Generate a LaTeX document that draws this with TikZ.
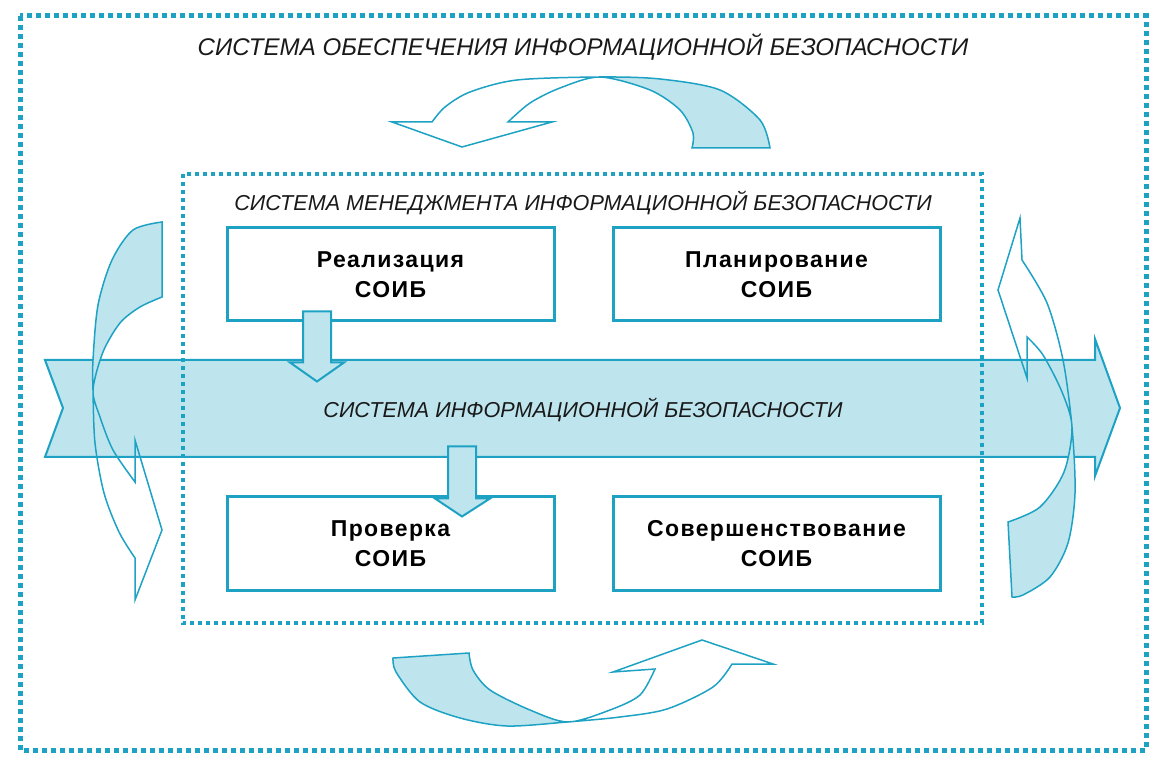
\documentclass[tikz,border=0pt]{standalone}
\usepackage{fontspec}
\setmainfont{Liberation Sans}
\newfontfamily\boxfont[LetterSpace=6]{Liberation Sans}
\usetikzlibrary{positioning, calc}
\definecolor{soibline}{HTML}{1EA2C4}
\definecolor{soibfill}{HTML}{BEE5EE}

% curved ribbons of the cycle (pixel units, y down)
\newcommand{\ribtop}{plot[smooth] coordinates {(770,148) (760,120) (720,90) (660,79) (600,77) (517,80) (470,92) (445,107) (432,122)}
  -- (392,122) -- (462,147) -- (552,122) -- (508,122)
  -- plot[smooth] coordinates {(508,122) (530,103) (560,88) (600,77) (650,90) (680,110) (693,133) (692,148)} -- cycle}
\newcommand{\ribbot}{plot[smooth] coordinates {(393,658) (396,672) (420,702) (460,718) (507,726) (567,722) (620,717) (667,709) (713,687) (732,664)}
  -- (773,664) -- (702,640) -- (613,672) -- (655,669)
  -- plot[smooth] coordinates {(655,669) (640,695) (610,710) (568,722) (530,710) (490,690) (473,670) (469,653)} -- cycle}
\newcommand{\ribleft}{plot[smooth] coordinates {(162,222) (133,230) (112,260) (98,305) (93,360) (93,390) (95,443) (104,493) (119,532) (135,558)}
  -- (135,600) -- (162,530) -- (135,440) -- (135,482)
  -- plot[smooth] coordinates {(135,482) (113,450) (100,417) (93,390) (103,352) (120,323) (140,307) (162,297)} -- cycle}
\newcommand{\ribright}{plot[smooth] coordinates {(1022,260) (1047,303) (1063,360) (1072,427) (1075,493) (1068,543) (1050,577) (1023,595) (1012,597)}
  -- (1008,522)
  -- plot[smooth] coordinates {(1008,522) (1040,507) (1064,472) (1072,427) (1062,392) (1043,355) (1027,337)}
  -- (1027,378) -- (998,290) -- (1020,218) -- cycle}

\begin{document}
\begin{tikzpicture}[x=0.5pt, y=-0.5pt,
  rib/.style={draw=soibline, line width=0.75pt},
  frame/.style={draw=soibline, line width=2.5pt, dash pattern=on 2.5pt off 2pt},
  title/.style={font=\itshape\fontsize{12.05}{14}\selectfont, text=black!90},
  stagebox/.style={draw=soibline, line width=1.5pt, minimum width=163.5pt, minimum height=46.5pt,
    align=center, font=\boxfont\bfseries\fontsize{11.5}{15}\selectfont}]
  \useasboundingbox (0,0) rectangle (1161,769);

  % main band
  \draw[rib, fill=soibfill, line width=1pt] (45,360) -- (1095,360) -- (1095,339) -- (1120,408)
    -- (1095,476) -- (1095,457) -- (45,457) -- (63,408) -- cycle;
  \node[title, font=\itshape\fontsize{10.8}{14}\selectfont] (sibtitle) at (583,410) {СИСТЕМА ИНФОРМАЦИОННОЙ БЕЗОПАСНОСТИ};

  % frames
  \draw[frame] (20,16) rectangle (1146,750);
  \draw[frame, line width=2pt, dash pattern=on 2pt off 2pt] (182.5,174.5) rectangle (982,623);
  \node[title] (soibtitle) at (583,47) {СИСТЕМА ОБЕСПЕЧЕНИЯ ИНФОРМАЦИОННОЙ БЕЗОПАСНОСТИ};
  \node[title, font=\itshape\fontsize{10.8}{13}\selectfont] (smibtitle) at (583,203) {СИСТЕМА МЕНЕДЖМЕНТА ИНФОРМАЦИОННОЙ БЕЗОПАСНОСТИ};

  % stages
  \node[stagebox] (real) at (390.5,274.5) {Реализация\\СОИБ};
  \node[stagebox, right=28pt of real] (plan) {Планирование\\СОИБ};
  \node[stagebox, below=86.5pt of real] (check) {Проверка\\СОИБ};
  \node[stagebox, right=28pt of check] (impr) {Совершенствование\\СОИБ};

  % block arrows into and out of the band
  \coordinate (realout) at ($(real.south)+(-73.5,0)$);
  \coordinate (checkin) at ($(check.north)+(71.5,0)$);
  \draw[rib, fill=soibfill, line width=1pt] (realout) ++(-14,-11) -- ++(28,0) -- ++(0,51) -- ++(13,0)
    -- ++(-27,19) -- ++(-27,-19) -- ++(13,0) -- cycle;
  \draw[rib, fill=soibfill, line width=1pt] (checkin) ++(-14,-49) -- ++(28,0) -- ++(0,52) -- ++(14,0)
    -- ++(-28,18) -- ++(-27,-18) -- ++(13,0) -- cycle;

  % ribbons: shaded tails, then outlines
  \begin{scope}
    \clip (600,0) rectangle (1161,300);
    \fill[soibfill] \ribtop;
  \end{scope}
  \begin{scope}
    \clip (0,600) rectangle (568,769);
    \fill[soibfill] \ribbot;
  \end{scope}
  \begin{scope}
    \clip (0,0) rectangle (200,390);
    \fill[soibfill] \ribleft;
  \end{scope}
  \begin{scope}
    \clip (900,427) rectangle (1161,769);
    \fill[soibfill] \ribright;
  \end{scope}
  \draw[rib] \ribtop;
  \draw[rib] \ribbot;
  \draw[rib] \ribleft;
  \draw[rib] \ribright;
\end{tikzpicture}
\end{document}
